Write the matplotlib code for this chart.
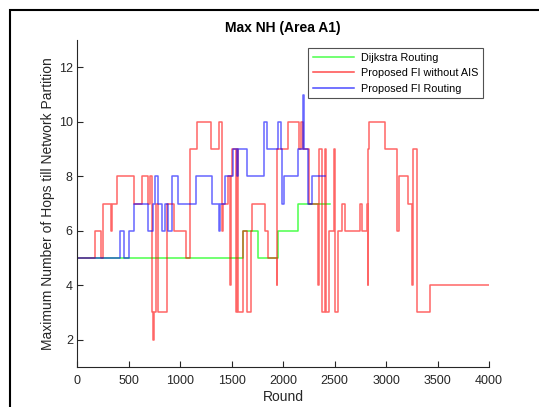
import matplotlib.pyplot as plt
from matplotlib.patches import Rectangle

plt.rcParams['font.family'] = ['Liberation Sans', 'DejaVu Sans']

# step change points (round where a new value starts), last entry = end of series
dijkstra_rounds = [0, 1615, 1754, 1955, 2149, 2456]
dijkstra_nh = [5, 6, 5, 6, 7, 7]

noais_rounds = [0, 175, 233, 255, 330, 340, 391, 550, 628, 693, 705, 725, 738, 746,
                767, 790, 870, 877, 945, 1058, 1097, 1162, 1298, 1379, 1411, 1421,
                1470, 1485, 1492, 1508, 1541, 1550, 1558, 1615, 1647, 1686, 1702,
                1825, 1857, 1938, 1946, 2052, 2155, 2172, 2191, 2249, 2343, 2351,
                2375, 2408, 2420, 2450, 2498, 2506, 2531, 2570, 2602, 2748, 2770,
                2812, 2822, 2828, 2838, 2990, 3104, 3129, 3217, 3256, 3262, 3304,
                3427, 4000]
noais_nh = [5, 6, 5, 7, 6, 7, 8, 7, 8, 7, 8, 3, 2, 3,
            7, 3, 5, 7, 6, 5, 9, 10, 9, 10, 6, 7,
            8, 4, 8, 9, 3, 9, 3, 6, 3, 6, 7,
            6, 5, 4, 9, 10, 9, 10, 9, 7, 4, 9,
            3, 9, 3, 6, 9, 3, 6, 7, 6, 7, 6,
            7, 4, 9, 10, 9, 6, 8, 7, 4, 9, 3,
            4, 4]

fi_rounds = [0, 417, 460, 505, 550, 693, 735, 757, 790, 822, 854, 887, 926, 984,
             1155, 1308, 1379, 1390, 1437, 1512, 1550, 1566, 1647, 1816, 1848,
             1955, 1981, 1987, 2013, 2149, 2197, 2205, 2240, 2279, 2408]
fi_nh = [5, 6, 5, 6, 7, 6, 7, 8, 7, 6, 7, 6, 8, 7,
         8, 7, 6, 7, 8, 9, 8, 9, 8, 10, 9,
         10, 9, 7, 8, 9, 11, 9, 7, 8, 8]

fig = plt.figure(figsize=(5.39, 4.07), dpi=100)
ax = fig.add_axes([0.1429, 0.0983, 0.7644, 0.8034])

ax.step(dijkstra_rounds, dijkstra_nh, where='post', color=(0, 1, 0), lw=1.1,
        alpha=0.7, label='Dijkstra Routing')
ax.step(noais_rounds, noais_nh, where='post', color=(1, 0, 0), lw=1.1,
        alpha=0.6, label='Proposed FI without AIS')
ax.step(fi_rounds, fi_nh, where='post', color=(0, 0, 1), lw=1.1,
        alpha=0.6, label='Proposed FI Routing')

ax.set_xlim(0, 4000)
ax.set_ylim(1, 13)
ax.set_xticks(range(0, 4001, 500))
ax.set_yticks(range(2, 13, 2))
ax.spines['top'].set_visible(False)
ax.spines['right'].set_visible(False)
for s in ['left', 'bottom']:
    ax.spines[s].set_color('#262626')
    ax.spines[s].set_linewidth(0.8)
ax.tick_params(direction='in', length=4, width=0.8, colors='#262626',
               labelsize=9)
ax.tick_params(axis='y', pad=3)
ax.tick_params(axis='x', pad=6)

ax.set_title('Max NH (Area A1)', fontsize=10, fontweight='bold', pad=6)
ax.set_xlabel('Round', fontsize=10, color='#262626', labelpad=2)
ax.set_ylabel('Maximum Number of Hops till Network Partition', fontsize=10,
              color='#262626', labelpad=3)

leg = ax.legend(loc='upper right', bbox_to_anchor=(0.985, 0.976), fontsize=7.8,
                frameon=True, fancybox=False, edgecolor='#262626',
                borderaxespad=0, handlelength=3.8, borderpad=0.45,
                labelspacing=0.5, handletextpad=0.6)
leg.get_frame().set_linewidth(0.8)
for line in leg.get_lines():
    line.set_alpha(0.7)

# outer frame of the screenshot
fig.patches.append(Rectangle((9.5 / 539, -0.1), 1.2, (407 - 9.5) / 407 + 0.1,
                             transform=fig.transFigure, fill=False,
                             edgecolor='black', lw=1.5))

fig.savefig('out.png', dpi=100)
